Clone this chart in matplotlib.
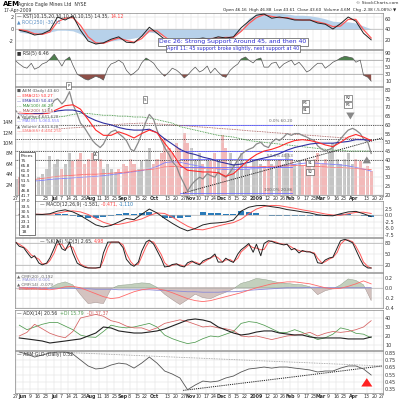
import matplotlib
matplotlib.use('Agg')
import matplotlib.pyplot as plt
import pandas as pd
import numpy as np

plt.rcParams['font.family'] = ['DejaVu Sans']

# ---------------- dates ----------------
weeks = pd.date_range('2008-05-30', '2009-04-17', freq='W-FRI')          # 47 weekly points
half = pd.DatetimeIndex(sorted(list(weeks - pd.Timedelta(days=3)) + list(weeks)))  # 94 half-week points

tick_dates = pd.to_datetime(['2008-05-27','2008-06-02','2008-06-09','2008-06-16','2008-06-23','2008-07-01',
    '2008-07-07','2008-07-14','2008-07-21','2008-07-28','2008-08-04','2008-08-11','2008-08-18','2008-08-25',
    '2008-09-02','2008-09-08','2008-09-15','2008-09-22','2008-10-01','2008-10-13','2008-10-20','2008-10-27',
    '2008-11-03','2008-11-10','2008-11-17','2008-11-24','2008-12-01','2008-12-08','2008-12-15','2008-12-22',
    '2009-01-02','2009-01-12','2009-01-20','2009-01-26','2009-02-02','2009-02-09','2009-02-17','2009-02-23',
    '2009-03-02','2009-03-09','2009-03-16','2009-03-23','2009-04-01','2009-04-13','2009-04-20','2009-04-27'])
tick_labels = ['27','Jun','9','16','23','Jul','7','14','21','28','Aug','11','18','25','Sep','8','15','22',
    'Oct','13','20','27','Nov','10','17','24','Dec','8','15','22','2009','12','20','26','Feb','9','17','23',
    'Mar','9','16','23','Apr','13','20','27']
# the middle axis labels hidden behind the "Prices" box in the reference
tick_labels_mid = ['27','','','','23','Jul','7','14','21','28','Aug','11','18','25','Sep','8','15','22',
    'Oct','13','20','27','Nov','10','17','24','Dec','8','15','22','2009','12','20','26','Feb','9','17','23',
    'Mar','9','16','23','Apr','13','20','27']
month_labels = {'Jun','Jul','Aug','Sep','Oct','Nov','Dec','2009','Feb','Mar','Apr'}

# ---------------- panel 1: KST + ROC area (weekly) ----------------
kst = [-0.2,-0.5,-1.0,-0.8,-0.2,2.0,1.5,2.2,-0.2,-2.0, -2.5,-2.3,-1.7,-1.3,-2.2,-2.3,-1.2,0.3,-0.7,-1.7,
       -2.3,-2.3,-2.2,-1.7,-1.5,-1.7,-1.3,-1.5,-1.3,0.2, 1.3,2.3,2.5,1.8,2.0,1.8,1.5,1.5,1.5,1.0,
       0.8,0.0,0.9,2.0,1.3,-0.7,-1.8]
kst_sig = [-0.1,-0.3,-0.8,-0.9,-0.5,1.2,1.8,1.9,0.6,-1.3, -2.3,-2.4,-1.9,-1.5,-1.9,-2.2,-1.6,-0.3,-0.3,-1.3,
           -2.1,-2.3,-2.2,-1.9,-1.6,-1.6,-1.5,-1.4,-1.4,-0.4, 0.9,1.9,2.4,2.1,1.9,1.9,1.6,1.5,1.5,1.2,
           0.9,0.4,0.5,1.6,1.6,-0.1,-1.5]
roc_area = [-0.5,-0.7,-0.7,-0.7,-0.5,-0.2,-0.2,-0.3,-0.8,-1.8, -2.5,-2.3,-2.0,-1.8,-1.7,-1.5,-1.2,-0.5,-0.7,-1.2,
            -1.7,-2.0,-2.2,-2.3,-2.3,-2.3,-2.3,-2.0,-1.3,-0.2, 1.8,2.5,2.8,2.6,2.6,2.5,2.3,2.3,2.2,2.0,
            1.7,1.3,1.2,1.2,1.0,0.5,0.0]

# ---------------- panel 2: RSI (half-week) ----------------
rsi = [67,59,50,47,61,44,50,59,64,73, 87,73,53,70,79,56,30,24,16,13, 19,24,19,13,47,59,64,70,61,41,
       27,33,44,62,76,70,61,47,33,24, 36,47,41,33,19,27,41,50,36,41, 53,33,47,36,24,21,41,50,59,73,
       79,70,62,72,76,50,50,61,64,47, 59,64,70,56,64,53,36,41,53,61, 61,47,56,64,70,76,81,79,76,64,
       70,27,21,10]

# ---------------- panel 3: price / volume ----------------
close = [68,66,64,63,66,64,65,67,68,70, 74,75,72,74,79,72,66,61,58,55, 51,49,47,49,54,56,57,55,53,51,
         46,45,50,55,62,66,63,57,51,47, 43,39,36,31,26,22,26,28,30,29, 32,31,30,33,31,30,33,36,40,43,
         45,46,47,49,50,48,47,50,52,51, 53,55,54,55,55,54,53,52,51,48, 46,45,46,47,50,52,55,57,58,57,
         55,52,50,43.6]
volume = [3,3.5,2.5,3,4,3,3.5,4,5,7.5, 6,7,5,6,8,6.5,7,8,6,7, 8,6.5,7,5,6,5,4.5,5,6,5.5,
          7,6,5,6.5,7,9,6,7,8,11, 9,8,10,9,12,10,9,7,8,6, 7,6.5,8,7,11.5,9,8,6,7,8,
          6,5,6.5,7,6,5.5,7,6,6.5,7, 6,8,7,6,6.5,5.5,7,6,7,8, 6,7,8.5,10,7,6,7,8,6,7,
          6.5,5,5.5,4.6]
ema21 = [67,66.5,66,66,67,69,71,71.5,69,63, 57,54,54,56,54.5,52.5,55,57,55.5,49.5, 44,37,34,33.5,33,33,32.5,30.5,32,36,
         40,43,45,46,47.5,49.5,51,51.5,51,50, 48.5,47.5,50,53,54.5,53,51]
ema50 = [66,66,66.5,66.5,67,68,68.5,68.5,67.5,64.5, 62.5,61,60,58.5,57.5,57,57,57.5,55.5,52, 49,46,44,43,41.5,40.5,39,38,37,37.5,
         38.5,40,41,42,43.5,45.5,47,48,49,49.5, 49.5,49.5,50,50.5,51.5,51.5,51]
ma100 = [63,63.5,63.5,64,64,64.5,65,66,66.5,66.5, 66,65.5,65.5,65,65,64.5,64.5,64,63,62, 61,59,58,57,56,55,54,53.5,53,52,
         51,50.5,50,49.5,49,48.5,48,47.5,47,46.5, 46,45.5,45.5,45,45,45,45]
ma200 = [56,56.3,56.6,57,57.3,57.6,58,58.3,58.6,59, 59.3,59.6,60,60.3,60.6,60.8,61,60.8,60.6,60.3, 60,59.7,59.4,59,58.7,58.4,58,57.7,57.4,57,
         56.6,56.3,56,55.6,55.3,55,54.6,54.3,54,53.7, 53.3,53,52.7,52.4,52,51.8,51.5]
vol_ma35 = [2.5,2.6,2.7,2.8,3.0,3.1,3.2,3.3,3.4,3.5, 3.6,3.7,3.9,4.1,4.3,4.5,4.7,5.0,5.5,6.2, 6.4,6.3,6.0,5.7,5.4,5.2,5.0,4.9,4.9,4.9,
            5.0,5.1,5.3,5.4,5.5,5.7,5.9,6.1,6.2,6.1, 6.0,5.9,5.8,5.6,5.3,5.0,4.6]
vol_ema65 = [2.5,2.8,3.0,3.2,3.4,3.6,3.7,3.8,3.9,4.0, 4.0,4.1,4.2,4.3,4.4,4.6,4.8,4.9,5.1,5.4, 5.5,5.4,5.3,5.2,5.1,5.1,5.1,5.2,5.3,5.4,
             5.4,5.4,5.5,5.5,5.6,5.6,5.7,5.7,5.6,5.5, 5.4,5.3,5.3,5.2,5.1,5.0,4.9]
support_levels = [60.2, 52.0, 45.0, 40.0]
fib_levels = [60.20, 45.23, 40.53, 35.83, 20.86]
fib_text = {60.20: '0.0% 60.20', 40.53: '50.0% 40.53', 20.86: '100.0% 20.86'}
fib_span = pd.to_datetime(['2008-10-24', '2009-02-04'])
trend_dates = pd.to_datetime(['2008-10-27', '2009-04-27'])
trend_vals = [20.9, 52.5]

# ---------------- panel 4: MACD (weekly) ----------------
macd = [0.2,0.4,0.3,0.2,0.5,1.5,2.0,1.2,-0.2,-2.0, -3.8,-4.6,-4.0,-2.7,-1.3,-1.8,0.3,2.3,0.8,-1.3,
        -3.2,-4.9,-6.1,-5.2,-3.8,-3.2,-3.0,-2.7,-1.9,1.5, 3.0,3.6,3.7,3.2,2.8,2.1,1.7,1.2,0.8,0.1,
        -0.2,-0.3,0.5,1.2,1.4,0.5,-0.6]
macd_sig = [0.3,0.3,0.3,0.3,0.3,0.7,1.3,1.6,1.2,0.2, -1.3,-2.8,-3.7,-3.6,-3.0,-2.3,-1.5,-0.2,0.8,0.6,
            -0.8,-2.6,-4.3,-5.5,-5.7,-5.0,-4.2,-3.5,-2.9,-1.6, 0.5,2.3,3.3,3.7,3.6,3.1,2.6,2.0,1.5,1.0,
            0.4,0.0,-0.1,0.5,1.0,1.1,0.6]
macd_hist = [-0.1,0.1,0.0,-0.1,0.1,0.4,0.4,-0.2,-0.7,-1.1, -1.3,-0.9,-0.2,0.5,0.9,0.3,0.9,1.3,0.0,-1.0,
             -1.2,-1.2,-0.9,0.2,1.0,0.9,0.6,0.4,0.5,1.5, 1.3,0.7,0.2,-0.3,-0.4,-0.5,-0.5,-0.4,-0.4,-0.5,
             -0.3,-0.2,0.3,0.4,0.2,-0.3,-0.6]

# ---------------- panel 5: stochastics (half-week) ----------------
stoch_k = [83,72,68,55,39,45,24,19,24,39, 67,90,65,60,84,53,24,18,12,10, 10,10,12,53,84,84,84,84,68,35,
           20,15,27,58,84,90,78,60,36,13, 15,20,22,16,13,25,30,24,19,30, 36,39,50,27,27,38,30,26,50,62,
           72,80,55,78,45,80,88,86,81,79, 76,78,62,66,53,60,56,56,50,25, 23,33,39,41,68,88,92,88,82,62,
           35,18,10,10]
stoch_d = [83,78,70,62,47,42,35,22,22,31, 53,78,78,63,72,69,39,21,15,11, 10,10,11,32,68,84,84,84,76,52,
           28,18,21,42,71,87,84,69,48,25, 14,18,21,19,15,19,27,27,22,25, 33,38,45,39,27,33,34,28,38,56,
           67,76,68,67,62,63,84,87,84,80, 78,77,70,64,60,57,58,56,53,38, 24,28,36,40,55,78,90,90,85,72,
           49,27,14,10]

# ---------------- panel 6: CMF (weekly) ----------------
cmf = [-0.04,-0.04,-0.03,-0.03,0.0,0.08,0.12,0.06,-0.14,-0.32, -0.30,-0.32,-0.02,0.05,0.06,0.08,0.10,0.09,0.01,-0.13,
       -0.24,-0.34,-0.24,-0.13,-0.20,-0.22,-0.15,-0.09,-0.02,0.09, 0.13,0.19,0.17,0.14,0.10,0.09,0.07,0.06,0.02,-0.14,
       -0.06,-0.02,0.06,0.18,0.15,0.06,-0.26]
cmf_ma_red = [0.0,-0.01,-0.02,-0.03,-0.04,-0.02,0.02,0.03,0.0,-0.06, -0.12,-0.18,-0.22,-0.20,-0.14,-0.08,-0.04,-0.02,-0.02,-0.05,
              -0.10,-0.16,-0.22,-0.26,-0.28,-0.26,-0.22,-0.18,-0.14,-0.10, -0.05,0.0,0.04,0.08,0.10,0.12,0.12,0.10,0.08,0.04,
              0.0,-0.02,-0.01,0.03,0.08,0.14,0.08]
cmf_ma_blue = [0.0,0.0,0.0,-0.01,-0.01,-0.01,-0.01,-0.01,-0.02,-0.02, -0.03,-0.03,-0.03,-0.04,-0.04,-0.04,-0.04,-0.04,-0.05,-0.05,
               -0.06,-0.07,-0.08,-0.08,-0.09,-0.09,-0.09,-0.08,-0.08,-0.07, -0.05,-0.04,-0.03,-0.02,-0.01,0.0,0.0,0.0,0.01,0.01,
               0.0,0.0,0.0,0.0,0.0,0.0,0.0]

# ---------------- panel 7: ADX (weekly) ----------------
adx = [17.8,16.7,15.6,14.4,12.2,13.3,14.4,15.6,16.7,20.0, 23.3,30.0,28.9,25.6,24.4,23.3,23.3,24.4,25.6,27.8,
       31.1,34.4,37.8,38.9,37.8,35.6,30.0,26.7,23.3,21.1, 22.2,24.4,25.6,25.6,23.3,22.2,21.1,21.1,18.9,17.8,
       17.8,17.8,17.8,16.7,16.7,16.7,18.9]
plus_di = [32,27,30,33,35,35,31,27,21,19, 18.5,25,32,30,29,30,32,34,30,21, 17,14,11.5,13,17,20,19,22,25,34,
           36,35,32,28,24,24,27,24,20,16, 18,22,29,27,23,22,18]
minus_di = [20,24,33,28,23,20,18,25,40,42, 44,42,37,35,31,29,29,26,29,34, 36,38,36,33,30,31,29,28,26,20,
            19,20,18,16,18,20,21,22,24,20, 23,25,24,25,27,30,37]

# ---------------- panel 8: AEM:GLD ratio (weekly) ----------------
ratio = [0.864,0.836,0.794,0.822,0.85,0.864,0.864,0.836,0.753,0.67, 0.628,0.64,0.683,0.71,0.697,0.64,0.71,0.794,0.71,0.60,
         0.558,0.503,0.34,0.405,0.46,0.447,0.46,0.503,0.53,0.586, 0.628,0.64,0.655,0.64,0.655,0.655,0.64,0.628,0.614,0.586,
         0.60,0.60,0.64,0.67,0.67,0.628,0.544]
ratio_up_dates = pd.to_datetime(['2008-07-01', '2009-04-27'])
ratio_up_vals = [0.865, 0.67]
ratio_lo_dates = pd.to_datetime(['2008-10-27', '2009-04-27'])
ratio_lo_vals = [0.33, 0.67]

# ================= drawing =================
fig = plt.figure(figsize=(4, 4), dpi=100)
XMIN = pd.Timestamp('2008-05-26 02:00')
XMAX = pd.Timestamp('2009-04-27 20:00')
GRID = '#dedede'
FS = 3.6
TX = (40 - 15) / 368   # title x position right of the "Prices" box


def panel(top, bottom):
    return fig.add_axes([15 / 400, 1 - bottom / 400, 368 / 400, (bottom - top) / 400])


def style(ax, ylim, yticks, ylabels, xlabels=None):
    ax.set_xlim(XMIN, XMAX)
    ax.set_ylim(*ylim)
    ax.yaxis.tick_right()
    ax.set_yticks(yticks)
    ax.set_yticklabels(ylabels, fontsize=FS, color='#333')
    ax.tick_params(axis='y', length=0, pad=1.5)
    ax.set_xticks(tick_dates)
    if xlabels is not None:
        ax.set_xticklabels(xlabels, fontsize=3.4, color='#333')
        for lab in ax.get_xticklabels():
            if lab.get_text() in month_labels:
                lab.set_fontweight('bold')
    else:
        ax.set_xticklabels([])
    ax.tick_params(axis='x', length=0, pad=1)
    ax.grid(True, color=GRID, lw=0.35)
    ax.set_axisbelow(True)
    for s in ax.spines.values():
        s.set_color('#888')
        s.set_linewidth(0.5)


def side_axis(ax, ylim, ticks, labels, left):
    t = ax.twinx()
    t.set_ylim(*ylim)
    if left:
        t.yaxis.tick_left()
    t.set_yticks(ticks)
    t.set_yticklabels(labels, fontsize=FS, color='#333')
    t.tick_params(axis='y', length=0, pad=1)
    for s in t.spines.values():
        s.set_visible(False)
    ax.yaxis.tick_right()
    return t


def title(ax, parts, y=0.97, x=0.006):
    t = ax.text(x, y, parts[0][0], color=parts[0][1], fontsize=3.3, transform=ax.transAxes,
                va='top', ha='left', zorder=10)
    for txt, col in parts[1:]:
        t = ax.annotate(txt, xycoords=t, xy=(1, 0), va='bottom', ha='left', color=col,
                        fontsize=3.3, zorder=10)


# header
fig.text(3 / 400, 1 - 1 / 400, 'AEM', fontsize=5, fontweight='bold', va='top')
fig.text(18 / 400, 1 - 2 / 400, 'Agnico Eagle Mines Ltd  NYSE', fontsize=3.3, va='top', color='#333')
fig.text(3 / 400, 1 - 8 / 400, '17-Apr-2009', fontsize=3.3, va='top', color='#333')
fig.text(398 / 400, 1 - 1.5 / 400, '© StockCharts.com', fontsize=3.2, va='top', ha='right', color='#333')
fig.text(396 / 400, 1 - 7.5 / 400,
         'Open 46.16  High 46.88  Low 43.61  Close 43.60  Volume 4.6M  Chg -2.38 (-5.08%) ▼',
         fontsize=3.0, va='top', ha='right', color='#222')

# ---- panel 1
ax1 = panel(13, 49)
style(ax1, (-3.33, 2.67), [-2, 0, 2], ['', '', ''])
ax1.fill_between(weeks, roc_area, 0, color='#b7d1ea', lw=0, zorder=1)
ax1.plot(weeks, kst_sig, color='#ff5a5a', lw=0.9, zorder=3)
ax1.plot(weeks, kst, color='#222', lw=0.7, zorder=4)
ax1.axhline(0, color='#aaa', lw=0.4, zorder=2)
side_axis(ax1, (-3.33, 2.67), [-2, 0, 2], ['-2', '0', '2'], left=True)
side_axis(ax1, (40 + 11.43 * -3.33, 40 + 11.43 * 2.67), [20, 40, 60], ['20', '40', '60'], left=False)
ax1.set_yticklabels([])
title(ax1, [('— KST(10,15,20,30,10,10,10,15) 14.35, ', '#333'), ('14.12', '#ff4040')])
ax1.text(0.006, 0.80, '▲ ROC(250) -30.15', color='#5b8fc4', fontsize=3.3, transform=ax1.transAxes, va='top')
fig.text(233 / 400, 1 - 42 / 400, 'Dec 26: Strong Support Around 45, and then 40', fontsize=4.4,
         color='#2a2ad0', ha='center', va='center',
         bbox=dict(boxstyle='square,pad=0.25', fc='white', ec='#555', lw=0.5), zorder=20)
fig.text(233 / 400, 1 - 48.5 / 400, 'April 11: 45 support broke slightly, next support at 40', fontsize=3.5,
         color='#2a2ad0', ha='center', va='center',
         bbox=dict(boxstyle='square,pad=0.25', fc='white', ec='#555', lw=0.5), zorder=20)

# ---- panel 2 RSI
ax2 = panel(50, 86)
style(ax2, (-4, 99), [10, 30, 50, 70, 90], ['10', '30', '50', '70', '90'])
r = np.array(rsi, dtype=float)
ax2.fill_between(half, r, 70, where=r > 70, interpolate=True, color='#4d7f4d', lw=0)
ax2.fill_between(half, r, 30, where=r < 30, interpolate=True, color='#8e4f48', lw=0)
ax2.axhline(70, color='#999', lw=0.45)
ax2.axhline(30, color='#999', lw=0.45)
ax2.plot(half, r, color='#555', lw=0.5)
title(ax2, [('■ RSI(5) 6.46', '#333')])

# ---- panel 3 price
ax3 = panel(87, 195)
style(ax3, (19.8, 81.7), list(range(20, 81, 5)), [str(v) for v in range(20, 81, 5)], xlabels=tick_labels_mid)
ax3v = side_axis(ax3, (0, 20.8), [2, 4, 6, 8, 10, 12, 14], ['2M', '4M', '6M', '8M', '10M', '12M', '14M'], left=True)
vcol = ['#f3b9b9' if i > 0 and close[i] < close[i - 1] else '#c4c4c4' for i in range(len(close))]
ax3v.bar(half, volume, width=2.8, color=vcol, lw=0)
ax3v.plot(weeks, vol_ma35, color='#8080ff', lw=0.6)
ax3v.plot(weeks, vol_ema65, color='#ff7070', lw=0.6)
ax3.set_zorder(ax3v.get_zorder() + 1)
ax3.patch.set_visible(False)
ax3v.patch.set_visible(True)
ax3v.patch.set_facecolor('white')
for lv in support_levels:
    ax3.axhline(lv, color='#222', lw=0.6, ls=(0, (1, 1.2)))
for lv in fib_levels:
    ax3.plot(fib_span, [lv, lv], color='#6a6aff', lw=0.6)
    if lv in fib_text:
        ax3.text(fib_span[1], lv + 0.6, fib_text[lv], fontsize=3.0, color='#666', ha='right', va='bottom')
ax3.plot(trend_dates, trend_vals, color='#222', lw=0.7, ls=(0, (1.2, 1)))
ax3.plot(weeks, ma200, color='#a05050', lw=0.6, ls=(0, (1, 1)))
ax3.plot(weeks, ma100, color='#2e8b2e', lw=0.6, ls=(0, (1, 1)))
ax3.plot(half, close, color='#8a8a8a', lw=0.9)
ax3.plot(weeks, ema50, color='#3030a0', lw=0.8)
ax3.plot(weeks, ema21, color='#ff2a2a', lw=0.8)
leg = [('■ AEM (Daily) 43.60', '#555'), ('— EMA(21) 50.27', '#ff2a2a'), ('— EMA(50) 50.43', '#3030a0'),
       ('--- MA(100) 46.29', '#2e8b2e'), ('--- MA(200) 51.65', '#a05050'), ('▲ Volume 4,641,628', '#555'),
       ('— MA(35) 5,060,555', '#8080ff'), ('▲ Volume 4,641,628', '#555'), ('— EMA(65) 4,444,250', '#ff7070')]
for i, (txt, col) in enumerate(leg):
    ax3.text(0.006, 0.985 - i * 0.047, txt, color=col, fontsize=3.0, transform=ax3.transAxes, va='top',
             zorder=10, bbox=dict(boxstyle='square,pad=0.05', fc='white', ec='none', alpha=0.7))
marks = [('2008-07-14', 82.5, 'P'), ('2008-09-22', 74.5, 'S'), ('2009-02-16', 72.5, 'R1'),
         ('2009-02-16', 68.5, 'S1'), ('2009-03-27', 75.5, 'R2'), ('2009-03-27', 71.5, 'R1'),
         ('2008-08-08', 42.5, 'A'), ('2009-02-20', 38.0, 'S1'), ('2009-02-20', 33.0, 'S2')]
for d, y, t in marks:
    ax3.text(pd.Timestamp(d), y, t, fontsize=2.8, ha='center', va='center', color='#333', zorder=11,
             bbox=dict(boxstyle='square,pad=0.3', fc='white', ec='#444', lw=0.4))
ax3.annotate('', xy=(pd.Timestamp('2009-03-29'), 61.5), xytext=(pd.Timestamp('2009-03-29'), 66.5),
             arrowprops=dict(arrowstyle='simple,head_width=0.6,head_length=0.5,tail_width=0.3', color='#888', lw=0))
ax3.annotate('', xy=(pd.Timestamp('2009-04-13'), 43.5), xytext=(pd.Timestamp('2009-04-13'), 38.5),
             arrowprops=dict(arrowstyle='simple,head_width=0.6,head_length=0.5,tail_width=0.3', color='#888', lw=0))

# ---- panel 4 MACD
ax4 = panel(201, 237)
style(ax4, (-8.46, 5.4), [-7.5, -5.0, -2.5, 0.0, 2.5], ['-7.5', '-5.0', '-2.5', '0.0', '2.5'])
ax4.bar(weeks, macd_hist, width=5.5, color='#2b7bb9', lw=0)
ax4.axhline(0, color='#aaa', lw=0.4)
ax4.plot(weeks, macd_sig, color='#ff5a5a', lw=0.7)
ax4.plot(weeks, macd, color='#222', lw=0.7)
title(ax4, [('— MACD(12,26,9) -1.581, ', '#333'), ('-0.471, ', '#ff4040'), ('-1.110', '#2b7bb9')], x=TX)

# ---- panel 5 Stoch
ax5 = panel(238, 272)
style(ax5, (-1.4, 95.7), [20, 50, 80], ['20', '50', '80'])
ax5.axhline(80, color='#aaa', lw=0.45)
ax5.axhline(20, color='#aaa', lw=0.45)
ax5.plot(half, stoch_d, color='#ff5a5a', lw=0.7)
ax5.plot(half, stoch_k, color='#222', lw=0.7)
title(ax5, [('— %K(14) %D(3) 2.65, ', '#333'), ('4.98', '#ff4040')], x=TX)

# ---- panel 6 CMF
ax6 = panel(273, 308)
style(ax6, (-0.41, 0.30), [-0.4, -0.2, 0.0, 0.2], ['-0.4', '-0.2', '0.0', '0.2'])
c = np.array(cmf)
ax6.fill_between(weeks, c, 0, where=c >= 0, interpolate=True, color='#c3d0bd', ec='#8a9a86', lw=0.3)
ax6.fill_between(weeks, c, 0, where=c < 0, interpolate=True, color='#d4c3c0', ec='#9a8a86', lw=0.3)
ax6.axhline(0, color='#aaa', lw=0.4)
ax6.plot(weeks, cmf_ma_blue, color='#8a8ad8', lw=0.6)
ax6.plot(weeks, cmf_ma_red, color='#ff6a6a', lw=0.6)
for i, (txt, col) in enumerate([('▲ CMF(20) -0.192', '#666'), ('— MA(65) 0.001', '#8a8ad8'),
                                 ('▲ CMF(14) -0.079', '#666'), ('— MA(20) 0.08', '#ff6a6a')]):
    ax6.text(0.006, 0.97 - i * 0.12, txt, color=col, fontsize=3.0, transform=ax6.transAxes, va='top')

# ---- panel 7 ADX
ax7 = panel(310, 350)
style(ax7, (4.4, 48.9), [10, 20, 30, 40], ['10', '20', '30', '40'])
ax7.plot(weeks, plus_di, color='#4f9a4f', lw=0.55)
ax7.plot(weeks, minus_di, color='#d56060', lw=0.55)
ax7.plot(weeks, adx, color='#222', lw=0.8)
title(ax7, [('— ADX(14) 20.56  ', '#333'), ('+DI 15.79  ', '#4f9a4f'), ('-DI 37.37', '#d56060')])

# ---- panel 8 ratio
ax8 = panel(351, 393)
style(ax8, (0.294, 0.878), [0.35, 0.45, 0.55, 0.65, 0.75, 0.85],
      ['0.35', '0.45', '0.55', '0.65', '0.75', '0.85'], xlabels=tick_labels)
ax8.plot(ratio_up_dates, ratio_up_vals, color='#999', lw=0.6, ls=(0, (1, 1)))
ax8.plot(ratio_lo_dates, ratio_lo_vals, color='#222', lw=0.7, ls=(0, (1.2, 1)))
ax8.plot(weeks, ratio, color='#555', lw=0.6)
ax8.annotate('', xy=(pd.Timestamp('2009-04-13'), 0.50), xytext=(pd.Timestamp('2009-04-13'), 0.45),
             arrowprops=dict(arrowstyle='simple,head_width=0.8,head_length=0.6,tail_width=0.45', color='#ff2020', lw=0))
title(ax8, [('— AEM:GLD (Daily) 0.52', '#333')])

# "Prices" inset box
fig.text(21 / 400, 1 - 154 / 400,
         'Prices\n75\n65.8\n61.0\n56.3\n51.5\n50\n46.8\n41.7\n37.0\n33.5\n30.5\n26.5\n23.1\n20.8\n18',
         fontsize=3.1, va='top', ha='left', color='#222', linespacing=1.35,
         bbox=dict(boxstyle='square,pad=0.4', fc='white', ec='#444', lw=0.5), zorder=30)

fig.savefig('out.png', dpi=100, facecolor='white')
